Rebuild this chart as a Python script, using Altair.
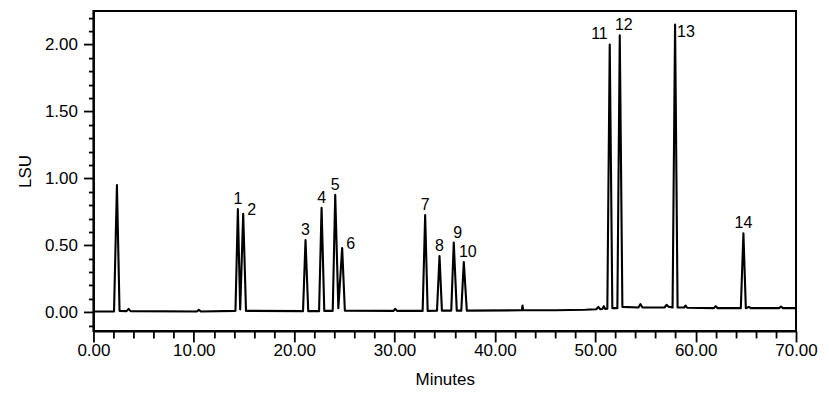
import altair as alt
import pandas as pd

# Chromatogram trace (minutes, LSU)
trace_time = [0.0, 2.05, 2.34, 2.6, 3.3, 3.5, 3.7, 10.3, 10.5, 10.7,
              14.15, 14.39, 14.62, 14.92, 15.2,
              20.88, 21.13, 21.4, 22.48, 22.73, 23.0,
              23.84, 24.09, 24.4, 24.78, 25.05,
              29.9, 30.06, 30.25, 32.8, 33.05, 33.3,
              34.23, 34.48, 34.72, 35.65, 35.9, 36.2, 36.65, 36.9, 37.2,
              42.68, 42.75, 42.82, 46.0, 49.0, 50.1, 50.3, 50.5, 50.7, 50.85, 51.0,
              51.2, 51.44, 51.7, 52.2, 52.44, 52.7,
              54.3, 54.5, 54.7, 56.9, 57.1, 57.3, 57.7, 57.95, 58.2,
              58.85, 59.0, 59.15, 61.8, 62.0, 62.2, 64.5, 64.76, 65.0,
              65.3, 65.5, 68.3, 68.5, 68.7, 70.0]
trace_lsu = [0.005, 0.005, 0.95, 0.01, 0.008, 0.025, 0.008, 0.005, 0.018, 0.005,
             0.01, 0.77, 0.02, 0.735, 0.01,
             0.008, 0.54, 0.008, 0.008, 0.78, 0.01,
             0.01, 0.878, 0.03, 0.48, 0.012,
             0.01, 0.025, 0.01, 0.01, 0.726, 0.01,
             0.012, 0.42, 0.012, 0.012, 0.52, 0.012, 0.012, 0.375, 0.012,
             0.014, 0.05, 0.014, 0.014, 0.018, 0.022, 0.04, 0.022, 0.024, 0.045, 0.024,
             0.026, 2.0, 0.03, 0.03, 2.07, 0.04,
             0.035, 0.06, 0.035, 0.035, 0.055, 0.04, 0.035, 2.15, 0.035,
             0.035, 0.05, 0.033, 0.03, 0.045, 0.03, 0.03, 0.59, 0.03,
             0.04, 0.03, 0.03, 0.042, 0.03, 0.03]

# Peak labels
peak_label = ["1", "2", "3", "4", "5", "6", "7", "8", "9", "10", "11", "12", "13", "14"]
peak_time = [14.39, 14.92, 21.13, 22.73, 24.09, 24.78, 33.05, 34.48, 35.9, 36.9,
             51.44, 52.44, 57.95, 64.76]
peak_lsu = [0.77, 0.735, 0.54, 0.78, 0.878, 0.48, 0.726, 0.42, 0.52, 0.375,
            2.0, 2.07, 2.15, 0.59]
peak_place = ["above", "right", "above", "above", "above", "right", "above", "above",
              "above_r", "above_r", "left", "above_r", "right_low", "above"]

x_ticks = [float(v) for v in range(0, 71, 2)]
y_ticks = [round(v / 10, 1) for v in range(-1, 23)]

trace = pd.DataFrame({"t": trace_time, "v": trace_lsu})
peaks = pd.DataFrame({"t": peak_time, "v": peak_lsu, "lab": peak_label, "place": peak_place})

FONT = "Liberation Sans"

x_scale = alt.Scale(domain=[0, 70], nice=False, zero=False)
y_scale = alt.Scale(domain=[-0.14, 2.25], nice=False, zero=False)

x_axis = alt.Axis(
    title="Minutes", values=x_ticks, tickCount=200, grid=False,
    labelExpr="datum.value % 10 === 0 ? format(datum.value, '.2f') : ''",
    tickSize={"condition": {"test": "datum.value % 10 === 0", "value": 11}, "value": 7},
    labelPadding=1, titlePadding=13, labelOverlap=False, labelFlush=False,
)
y_axis = alt.Axis(
    title="LSU", values=y_ticks, tickCount=200, grid=False,
    labelExpr="abs(round(datum.value * 100)) % 50 === 0 ? format(datum.value, '.2f') : ''",
    tickSize={"condition": {"test": "abs(round(datum.value * 100)) % 50 === 0", "value": 10}, "value": 5},
    labelPadding=6, titlePadding=10, labelOverlap=False, labelFlush=False,
)

line = alt.Chart(trace).mark_line(color="black", strokeWidth=2.1, strokeJoin="round").encode(
    x=alt.X("t:Q", scale=x_scale, axis=x_axis),
    y=alt.Y("v:Q", scale=y_scale, axis=y_axis),
)

place_style = {
    "above": dict(align="center", dx=0, dy=-5),
    "above_r": dict(align="center", dx=4, dy=-5),
    "right": dict(align="left", dx=4, dy=1),
    "right_low": dict(align="left", dx=2, dy=13),
    "left": dict(align="right", dx=-2, dy=-6),
}

layers = [line]
for name, st in place_style.items():
    layers.append(
        alt.Chart(peaks).transform_filter(alt.datum.place == name)
        .mark_text(font=FONT, fontSize=16, color="black", baseline="alphabetic", **st)
        .encode(x=alt.X("t:Q", scale=x_scale, axis=x_axis),
                y=alt.Y("v:Q", scale=y_scale, axis=y_axis), text="lab:N")
    )

chart = alt.layer(*layers).properties(
    width=703, height=320,
    padding={"left": 7.5, "top": 0, "right": 3, "bottom": 5},
).configure_view(
    stroke="black", strokeWidth=2,
).configure_axis(
    domainColor="black", domainWidth=2, tickColor="black", tickWidth=1.8,
    labelFont=FONT, labelFontSize=17, labelColor="black",
    titleFont=FONT, titleFontSize=17, titleFontWeight="normal", titleColor="black",
)

chart.save("out.html", embed_options={"renderer": "svg", "actions": False})
